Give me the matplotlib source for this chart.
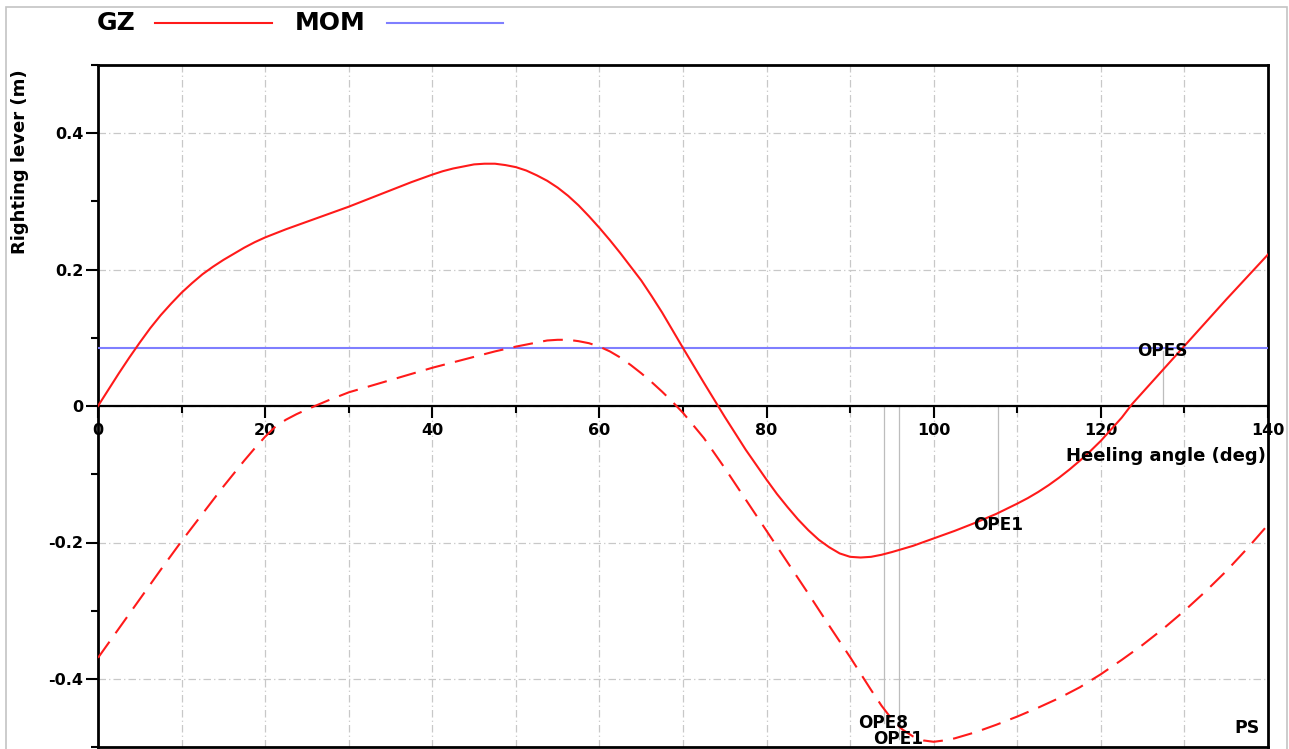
import matplotlib
matplotlib.use("Agg")
import matplotlib.pyplot as plt
from matplotlib.lines import Line2D
from matplotlib.patches import Rectangle
from matplotlib.ticker import MultipleLocator

plt.rcParams['font.family'] = ['DejaVu Sans']
plt.rcParams['font.weight'] = 'bold'

# Righting lever GZ (m) against heeling angle (deg)
gz_angles = [0, 1.25, 2.5, 3.75, 5, 6.25, 7.5, 8.75, 10, 11.25, 12.5, 13.75,
             15, 16.25, 17.5, 18.75, 20, 22.5, 25, 27.5, 30, 32.5, 35, 37.5,
             40, 41.25, 42.5, 43.75, 45, 46.25, 47.5, 48.75, 50, 51.25, 52.5,
             53.75, 55, 56.25, 57.5, 58.75, 60, 61.25, 62.5, 63.75, 65, 66.25,
             67.5, 68.75, 70, 72.5, 75, 77.5, 80, 81.25, 82.5, 83.75, 85,
             86.25, 87.5, 88.75, 90, 91.25, 92.5, 93.75, 95, 97.5, 100, 102.5,
             105, 107.5, 110, 111.25, 112.5, 113.75, 115, 116.25, 117.5,
             118.75, 120, 121.25, 122.5, 123.75, 125, 127.5, 130, 132.5, 135,
             137.5, 140]
gz = [0.000, 0.024, 0.048, 0.071, 0.093, 0.114, 0.133, 0.150, 0.166, 0.180,
      0.193, 0.204, 0.214, 0.223, 0.232, 0.240, 0.247, 0.259, 0.270, 0.281,
      0.292, 0.304, 0.316, 0.328, 0.339, 0.344, 0.348, 0.351, 0.354, 0.355,
      0.355, 0.353, 0.350, 0.345, 0.338, 0.330, 0.320, 0.308, 0.294, 0.278,
      0.261, 0.243, 0.224, 0.204, 0.184, 0.161, 0.137, 0.111, 0.085, 0.034,
      -0.016, -0.064, -0.108, -0.129, -0.148, -0.166, -0.182, -0.196, -0.207,
      -0.216, -0.221, -0.222, -0.221, -0.218, -0.214, -0.205, -0.194, -0.183,
      -0.171, -0.158, -0.143, -0.135, -0.126, -0.116, -0.105, -0.093, -0.080,
      -0.066, -0.051, -0.034, -0.017, 0.003, 0.020, 0.054, 0.088, 0.122,
      0.156, 0.189, 0.222]

# Residual lever (m), dashed curve
res_angles = [0, 2.5, 5, 7.5, 10, 12.5, 15, 17.5, 18.75, 20, 21.25, 22.5,
              23.75, 25, 27.5, 30, 32.5, 35, 37.5, 40, 42.5, 45, 47.5, 50,
              51.25, 52.5, 53.75, 55, 56.25, 57.5, 58.75, 60, 61.25, 62.5,
              63.75, 65, 66.25, 67.5, 68.75, 70, 72.5, 75, 77.5, 80, 82.5, 85,
              87.5, 90, 91.25, 92.5, 93.75, 95, 96.25, 97.5, 98.75, 100,
              101.25, 102.5, 105, 107.5, 110, 112.5, 115, 117.5, 120, 122.5,
              125, 127.5, 130, 132.5, 135, 137.5, 140]
gz_res = [-0.369, -0.326, -0.283, -0.240, -0.198, -0.158, -0.118, -0.080,
          -0.062, -0.045, -0.030, -0.020, -0.012, -0.005, 0.008, 0.020, 0.029,
          0.038, 0.047, 0.056, 0.064, 0.072, 0.080, 0.087, 0.090, 0.093, 0.096,
          0.097, 0.097, 0.095, 0.092, 0.087, 0.080, 0.071, 0.060, 0.048, 0.035,
          0.021, 0.006, -0.010, -0.047, -0.091, -0.137, -0.183, -0.229, -0.275,
          -0.322, -0.368, -0.392, -0.416, -0.439, -0.459, -0.474, -0.484,
          -0.490, -0.492, -0.490, -0.487, -0.478, -0.467, -0.455, -0.442,
          -0.428, -0.412, -0.393, -0.372, -0.350, -0.326, -0.300, -0.272,
          -0.242, -0.209, -0.174]

# Heeling moment lever (m)
mom = 0.085

# Openings: name, flooding angle (deg), label level (m)
ope_names = ['OPE8', 'OPE1', 'OPE1', 'OPES']
ope_angles = [94.0, 95.8, 107.7, 127.4]
ope_levels = [-0.465, -0.488, -0.174, 0.080]

W, H = 1289, 749
fig = plt.figure(figsize=(W / 100, H / 100), dpi=100)
ax = fig.add_axes([98 / W, 1 - 747.25 / H, (1268 - 98) / W, (747.25 - 64.75) / H])

ax.set_xlim(0, 140)
ax.set_ylim(-0.5, 0.5)

# grid
ax.xaxis.set_major_locator(MultipleLocator(20))
ax.xaxis.set_minor_locator(MultipleLocator(10))
ax.yaxis.set_major_locator(MultipleLocator(0.2))
ax.yaxis.set_minor_locator(MultipleLocator(0.1))
grid_style = dict(color='#c8c8c8', lw=0.9, linestyle=(0, (6, 2.5, 1, 2.5)))
ax.grid(axis='x', which='both', **grid_style)
ax.grid(axis='y', which='major', **grid_style)
ax.set_axisbelow(True)

# opening markers
for name, a, lev in zip(ope_names, ope_angles, ope_levels):
    ax.plot([a, a], [0, lev], color='#bdbdbd', lw=0.9, zorder=1.6)

ax.plot(res_angles, gz_res, color='#ff1a1a', lw=1.5, dashes=(9.5, 5),
        zorder=3)
ax.plot(gz_angles, gz, color='#ff1a1a', lw=1.5, zorder=3)
ax.axhline(mom, color='#7f7fff', lw=1.5, zorder=2.9)

for name, a, lev in zip(ope_names, ope_angles, ope_levels):
    ax.text(a, lev, name, ha='center', va='center', fontsize=12.2,
            fontweight='bold', zorder=4)

ax.text(139, -0.472, 'PS', ha='right', va='center', fontsize=12.5,
        fontweight='bold')

# spines
for s in ('left', 'right', 'top'):
    ax.spines[s].set_linewidth(2)
ax.spines['bottom'].set_position(('data', 0))
ax.spines['bottom'].set_linewidth(1.6)
ax.plot([0, 1], [0, 0], transform=ax.transAxes, color='k', lw=2,
        clip_on=False, zorder=5)

ax.tick_params(axis='both', which='major', direction='out', length=8.5,
               width=1.5, labelsize=11.5)
ax.tick_params(axis='both', which='minor', direction='out', length=5,
               width=1.5)
ax.tick_params(axis='x', which='major', pad=4)
ax.tick_params(axis='y', which='major', pad=2)

ax.set_xticks([0, 20, 40, 60, 80, 100, 120, 140])
ax.set_xticklabels(['0', '20', '40', '60', '80', '100', '120', '140'])
ax.set_yticks([-0.4, -0.2, 0, 0.2, 0.4])
ax.set_yticklabels(['-0.4', '-0.2', '0', '0.2', '0.4'])
for lab in ax.get_xticklabels() + ax.get_yticklabels():
    lab.set_fontweight('bold')

# axis titles
fig.text(1266 / W, 1 - 456 / H, 'Heeling angle (deg)', ha='right',
         va='center', fontsize=13, fontweight='bold')
fig.text(20 / W, 1 - 162 / H, 'Righting lever (m)', rotation=90,
         ha='center', va='center', fontsize=13, fontweight='bold')

# legend row
fig.text(97 / W, 1 - 23 / H, 'GZ', ha='left', va='center', fontsize=18,
         fontweight='bold')
fig.add_artist(Line2D([155 / W, 272 / W], [1 - 23 / H, 1 - 23 / H],
                      color='#ff1a1a', lw=1.5, transform=fig.transFigure))
fig.text(295 / W, 1 - 23 / H, 'MOM', ha='left', va='center', fontsize=18,
         fontweight='bold')
fig.add_artist(Line2D([387 / W, 503 / W], [1 - 23 / H, 1 - 23 / H],
                      color='#7f7fff', lw=1.5, transform=fig.transFigure))

# outer frame
fig.add_artist(Rectangle((6 / W, -0.02), (1287 - 6) / W, 1 - 7 / H + 0.02,
                         transform=fig.transFigure, fill=False,
                         edgecolor='#c4c4c4', lw=1.2))

fig.savefig('out.png', dpi=100)
